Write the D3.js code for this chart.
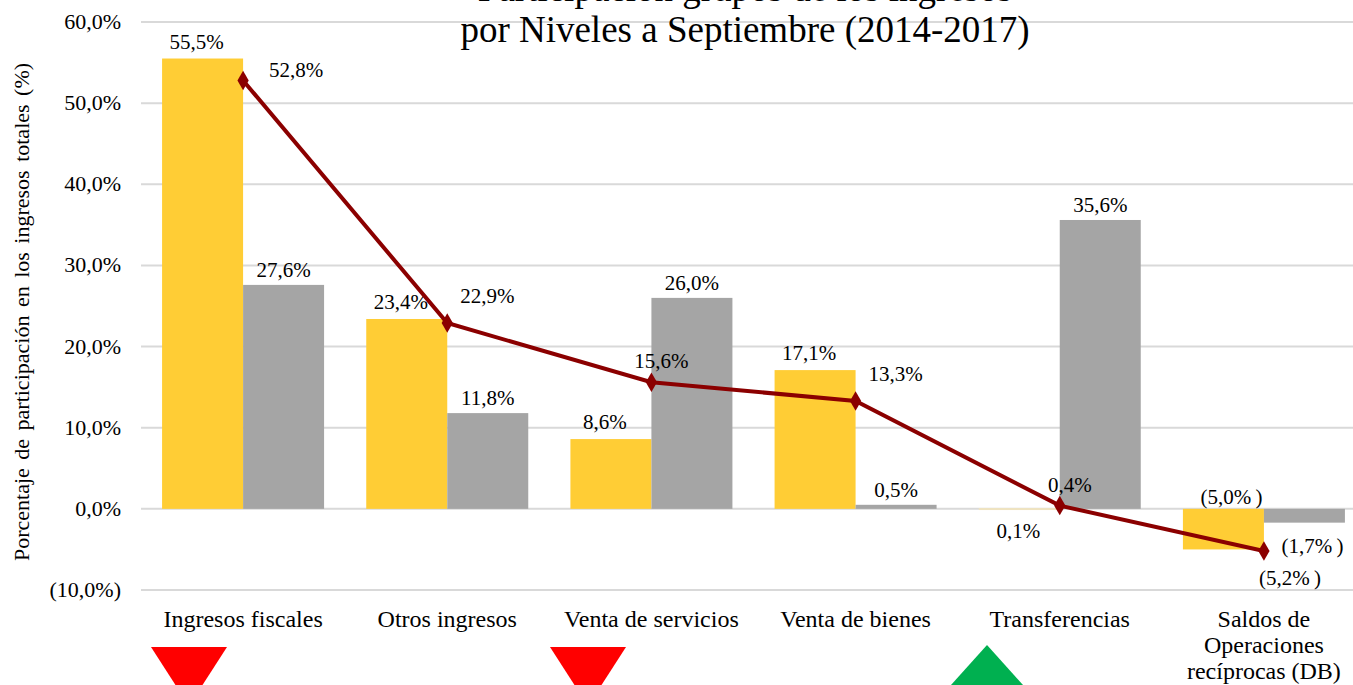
<!DOCTYPE html>
<html>
<head>
  <meta charset="utf-8">
  <script src="https://cdn.jsdelivr.net/npm/d3@7"></script>
  <style>
    body { margin: 0; background: #fff; }
    svg text { font-family: "Liberation Serif", "Times New Roman", serif; fill: #000; }
  </style>
</head>
<body>
  <svg width="1353" height="685"></svg>
  <script>
    // data
    var categories = ["Ingresos fiscales", "Otros ingresos", "Venta de servicios", "Venta de bienes", "Transferencias", "Saldos de|Operaciones|recíprocas (DB)"];
    var serieA = [55.5, 23.4, 8.6, 17.1, 0.1, -5.0];   // amarillo
    var serieB = [27.6, 11.8, 26.0, 0.5, 35.6, -1.7];  // gris
    var serieLinea = [52.8, 22.9, 15.6, 13.3, 0.4, -5.2];
    var yTicks = [-10, 0, 10, 20, 30, 40, 50, 60];
    var tendencia = ["down", null, "down", null, "up", null];

    var svg = d3.select("svg").attr("font-family", "Liberation Serif");

    var x = d3.scaleBand().domain(categories).range([141, 1366]).padding(0);
    var y = d3.scaleLinear().domain([-10, 60]).range([590, 22]);
    // las flechas quedan un poco corridas respecto a las columnas
    var xArrow = d3.scaleLinear().domain([0, categories.length - 1]).range([189, 1186.5]);
    var barW = 81;

    function fmt(v) {
      var s = d3.format(".1f")(Math.abs(v)).replace(".", ",") + "%";
      return v < 0 ? "(" + s + ")" : s;
    }
    function fmtNeg(v) {
      var s = d3.format(".1f")(Math.abs(v)).replace(".", ",");
      return v < 0 ? "(" + s + "%\u2009)" : s + "%";
    }

    // grid
    svg.append("g").selectAll("line").data(yTicks).enter().append("line")
      .attr("x1", 141).attr("x2", 1353)
      .attr("y1", function (d) { return y(d); })
      .attr("y2", function (d) { return y(d); })
      .attr("stroke", "#d9d9d9").attr("stroke-width", 2);

    // y axis labels
    svg.append("g").selectAll("text").data(yTicks).enter().append("text")
      .attr("x", 121).attr("y", function (d) { return y(d) + 7; })
      .attr("text-anchor", "end").style("font-size", "22px")
      .text(fmt);

    svg.append("text")
      .attr("transform", "translate(29,312) rotate(-90)")
      .attr("text-anchor", "middle").style("font-size", "22px")
      .style("word-spacing", "3px")
      .text("Porcentaje  de participación  en los ingresos  totales  (%)");

    // title
    var title = svg.append("text").attr("text-anchor", "middle").style("font-size", "37px");
    title.append("tspan").attr("x", 745).attr("y", 1).text("Participación grupos de los ingresos");
    title.append("tspan").attr("x", 745).attr("y", 42).text("por Niveles a Septiembre (2014-2017)");

    var idx = d3.range(categories.length);
    function cx(i) { return x(categories[i]) + x.bandwidth() / 2; }

    // bars
    svg.append("g").selectAll("rect").data(idx).enter().append("rect")
      .attr("x", function (i) { return cx(i) - barW; })
      .attr("y", function (i) { return y(Math.max(0, serieA[i])); })
      .attr("width", barW)
      .attr("height", function (i) { return Math.max(2, Math.abs(y(serieA[i]) - y(0))); })
      .attr("fill", function (i) { return serieA[i] < 0.5 && serieA[i] > 0 ? "#efe3c0" : "#ffcd35"; });

    svg.append("g").selectAll("rect").data(idx).enter().append("rect")
      .attr("x", function (i) { return cx(i); })
      .attr("y", function (i) { return y(Math.max(0, serieB[i])); })
      .attr("width", barW)
      .attr("height", function (i) { return Math.abs(y(serieB[i]) - y(0)); })
      .attr("fill", "#a5a5a5");

    // bar labels
    svg.append("g").selectAll("text").data(idx).enter().append("text")
      .attr("x", function (i) {
        if (serieA[i] < 0) return cx(i) - barW / 2 + 8;
        if (serieA[i] < 1) return cx(i) - barW / 2 - 1;
        return cx(i) - barW / 2 - 6;
      })
      .attr("y", function (i) {
        if (serieA[i] < 0) return y(0) - 5;
        if (serieA[i] < 1) return y(0) + 29;
        return y(serieA[i]) - 10;
      })
      .attr("text-anchor", "middle").style("font-size", "21px")
      .text(function (i) { return fmtNeg(serieA[i]); });

    svg.append("g").selectAll("text").data(idx).enter().append("text")
      .attr("x", function (i) { return cx(i) + barW / 2 + (serieB[i] < 0 ? 8 : 0); })
      .attr("y", function (i) {
        if (serieB[i] < 0) return y(serieB[i]) + 30;
        return y(serieB[i]) - 8;
      })
      .attr("text-anchor", "middle").style("font-size", "21px")
      .text(function (i) { return fmtNeg(serieB[i]); });

    // line
    var line = d3.line().x(function (i) { return cx(i); }).y(function (i) { return y(serieLinea[i]); });
    svg.append("path").datum(idx).attr("d", line)
      .attr("fill", "none").attr("stroke", "#8b0000").attr("stroke-width", 4);
    svg.append("g").selectAll("path").data(idx).enter().append("path")
      .attr("d", d3.symbol().type(d3.symbolDiamond).size(110))
      .attr("transform", function (i) { return "translate(" + cx(i) + "," + y(serieLinea[i]) + ")"; })
      .attr("fill", "#8b0000");

    // posicion de cada etiqueta de la linea: right / upright / above / below
    var lblPos = ["right", "upright", "above", "upright", "above", "below"];
    svg.append("g").selectAll("text").data(idx).enter().append("text")
      .attr("x", function (i) {
        var p = lblPos[i];
        return p === "right" ? cx(i) + 53 : p === "upright" ? cx(i) + 40 : p === "below" ? cx(i) + 26 : cx(i) + 10;
      })
      .attr("y", function (i) {
        var py = y(serieLinea[i]), p = lblPos[i];
        return p === "right" ? py - 3 : p === "upright" ? py - 20 : p === "below" ? py + 34 : py - 14;
      })
      .attr("text-anchor", "middle").style("font-size", "21px")
      .text(function (i) { return fmtNeg(serieLinea[i]); });

    // category labels
    var cat = svg.append("g").selectAll("text").data(idx).enter().append("text")
      .attr("text-anchor", "middle").style("font-size", "24px");
    cat.each(function (i) {
      var parts = categories[i].split("|");
      d3.select(this).selectAll("tspan").data(parts).enter().append("tspan")
        .attr("x", cx(i))
        .attr("y", function (d, k) { return 627 + k * 26; })
        .text(function (d) { return d; });
    });

    // trend arrows
    svg.append("g").selectAll("path").data(idx.filter(function (i) { return tendencia[i]; })).enter().append("path")
      .attr("d", function (i) {
        var c = xArrow(i);
        if (tendencia[i] === "down") return "M" + (c - 38) + ",647L" + (c + 38) + ",647L" + c + ",706Z";
        return "M" + c + ",645L" + (c + 45) + ",695L" + (c - 45) + ",695Z";
      })
      .attr("fill", function (i) { return tendencia[i] === "down" ? "#ff0000" : "#00b050"; });
  </script>
</body>
</html>
